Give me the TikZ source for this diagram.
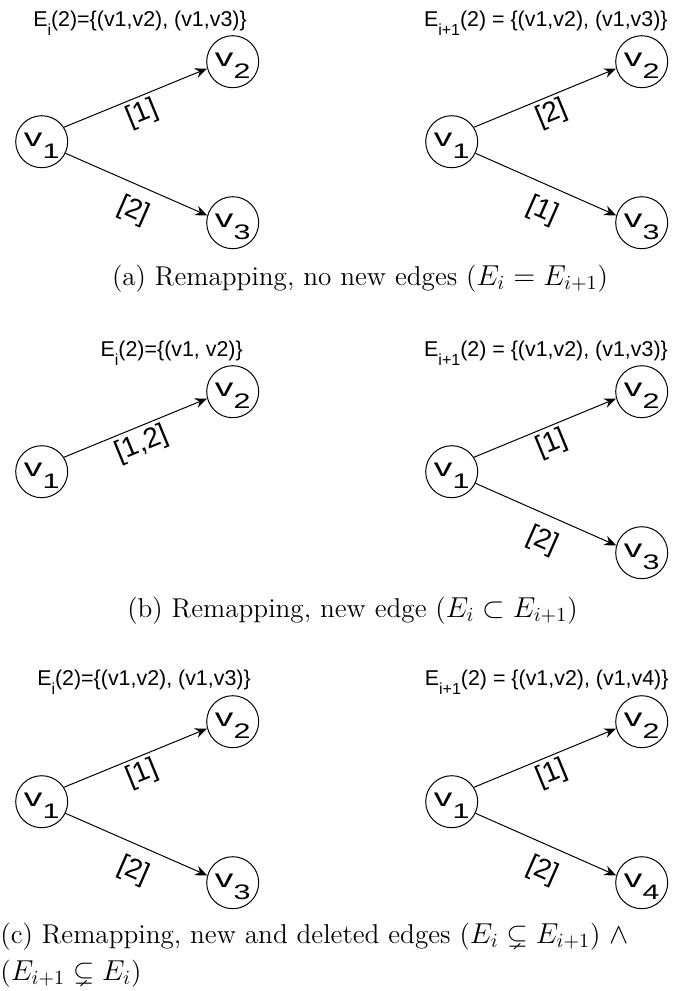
\documentclass[tikz,border=0pt]{standalone}
\usepackage{amsmath,amssymb}
\usepackage{graphicx}
\usepackage{fontspec}
\newfontfamily\arialfont{Liberation Sans}
\usetikzlibrary{arrows.meta}

% vertex label and lowered index
\newcommand{\vlab}[1]{\scalebox{1.45}[1]{\fontsize{12.8}{12.8}\selectfont v\raisebox{-5.8pt}{\fontsize{10.5}{10.5}\selectfont #1}}}
\newcommand{\lowtxt}[1]{\raisebox{-4.5pt}{\fontsize{8}{8}\selectfont #1}}

\begin{document}
\begin{tikzpicture}[x=0.5pt, y=-0.5pt,
  vertex/.style={draw, circle, line width=0.5pt, minimum size=26pt, inner sep=0pt, text height=8pt, text depth=3pt, font=\arialfont},
  arc/.style={line width=0.5pt, -{Stealth[length=6pt, width=5pt, inset=2pt]}},
  weight/.style={sloped, below, inner sep=2pt, pos=0.5, font=\arialfont\fontsize{14}{14}\selectfont},
  weightlow/.style={weight, below=4pt, pos=0.55},
  settitle/.style={anchor=base, inner sep=0pt, font=\arialfont\fontsize{10.7}{10.7}\selectfont},
  subcap/.style={anchor=base, inner sep=0pt, font=\fontsize{13.6}{18.5}\selectfont}]
  \useasboundingbox (0,0) rectangle (673,991);

  % (a) left
  \node[settitle] (ta1) at (140, 26.7) {E\lowtxt{i}(2)=\{(v1,v2), (v1,v3)\}};
  \node[vertex] (a1v1) at (41.7, 141.7) {\vlab{1}};
  \node[vertex] (a1v2) at (232.7, 61.7) {\vlab{2}};
  \node[vertex] (a1v3) at (232.7, 222.7) {\vlab{3}};
  \draw[arc] (a1v1.33) -- (a1v2.195) node[weight] {[1]};
  \draw[arc] (a1v1.-26) -- (a1v3.164) node[weightlow] {[2]};

  % (a) right
  \node[settitle] (ta2) at (545.8, 26.7) {E\lowtxt{i+1}(2) = \{(v1,v2), (v1,v3)\}};
  \node[vertex] (a2v1) at (451.7, 141.7) {\vlab{1}};
  \node[vertex] (a2v2) at (641.7, 61.7) {\vlab{2}};
  \node[vertex] (a2v3) at (641.7, 222.7) {\vlab{3}};
  \draw[arc] (a2v1.33) -- (a2v2.195) node[weight] {[2]};
  \draw[arc] (a2v1.-26) -- (a2v3.164) node[weightlow] {[1]};

  \node[subcap] (capa) at (360, 285.3) {(a) Remapping, no new edges ($E_i = E_{i+1}$)};

  % (b) left
  \node[settitle] (tb1) at (171.7, 356.7) {E\lowtxt{i}(2)=\{(v1, v2)\}};
  \node[vertex] (b1v1) at (41.7, 471.7) {\vlab{1}};
  \node[vertex] (b1v2) at (232.7, 391.7) {\vlab{2}};
  \draw[arc] (b1v1.33) -- (b1v2.195) node[weight] {[1,2]};

  % (b) right
  \node[settitle] (tb2) at (546, 356.7) {E\lowtxt{i+1}(2) = \{(v1,v2), (v1,v3)\}};
  \node[vertex] (b2v1) at (451.7, 471.7) {\vlab{1}};
  \node[vertex] (b2v2) at (641.7, 391.7) {\vlab{2}};
  \node[vertex] (b2v3) at (641.7, 552.7) {\vlab{3}};
  \draw[arc] (b2v1.33) -- (b2v2.195) node[weight] {[1]};
  \draw[arc] (b2v1.-26) -- (b2v3.164) node[weightlow] {[2]};

  \node[subcap] (capb) at (352.5, 617) {(b) Remapping, new edge ($E_i \subset E_{i+1}$)};

  % (c) left
  \node[settitle] (tc1) at (144, 685) {E\lowtxt{i}(2)=\{(v1,v2), (v1,v3)\}};
  \node[vertex] (c1v1) at (41.7, 801.7) {\vlab{1}};
  \node[vertex] (c1v2) at (232.7, 721.7) {\vlab{2}};
  \node[vertex] (c1v3) at (232.7, 882.7) {\vlab{3}};
  \draw[arc] (c1v1.33) -- (c1v2.195) node[weight] {[1]};
  \draw[arc] (c1v1.-26) -- (c1v3.164) node[weightlow] {[2]};

  % (c) right
  \node[settitle] (tc2) at (546.7, 685) {E\lowtxt{i+1}(2) = \{(v1,v2), (v1,v4)\}};
  \node[vertex] (c2v1) at (451.7, 801.7) {\vlab{1}};
  \node[vertex] (c2v2) at (641.7, 721.7) {\vlab{2}};
  \node[vertex] (c2v4) at (641.7, 882.7) {\vlab{4}};
  \draw[arc] (c2v1.33) -- (c2v2.195) node[weight] {[1]};
  \draw[arc] (c2v1.-26) -- (c2v4.164) node[weightlow] {[2]};

  \node[subcap, anchor=base west, align=left] (capc) at (0, 980)
    {(c) Remapping, new and deleted edges ($E_i \subsetneq E_{i+1}$) $\wedge$\\($E_{i+1} \subsetneq E_i$)};
\end{tikzpicture}
\end{document}
